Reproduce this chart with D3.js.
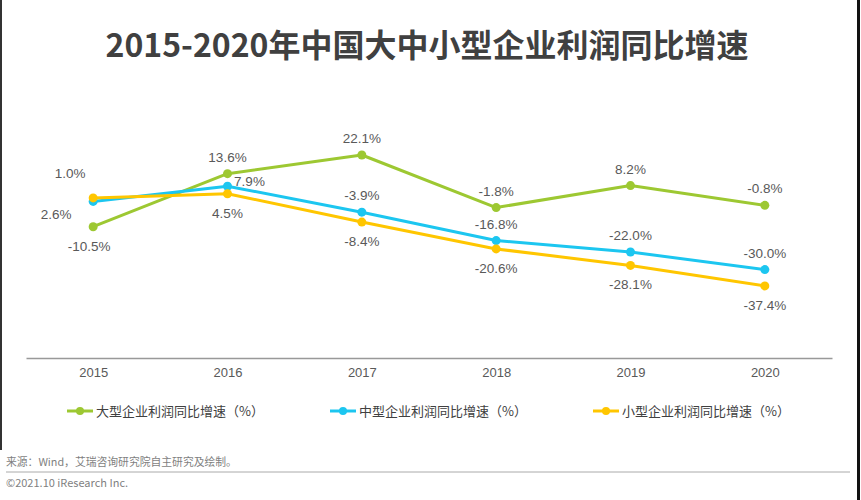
<!DOCTYPE html>
<html><head><meta charset="utf-8">
<script src="https://cdn.jsdelivr.net/npm/d3@7/dist/d3.min.js"></script>
<style>
html,body{margin:0;padding:0;background:#fff;}
svg{display:block;}
text{font-family:"Liberation Sans","Noto Sans CJK SC",sans-serif;}
.cjk{font-family:"Noto Sans CJK SC","Liberation Sans",sans-serif;}
</style></head>
<body>
<script>
const title = "2015-2020年中国大中小型企业利润同比增速";
const years = ["2015","2016","2017","2018","2019","2020"];
const seriesNames = ["大型企业利润同比增速（%）","中型企业利润同比增速（%）","小型企业利润同比增速（%）"];
const largeVals = [-10.5, 13.6, 22.1, -1.8, 8.2, -0.8];
const mediumVals = [1.0, 7.9, -3.9, -16.8, -22.0, -30.0];
const smallVals = [2.6, 4.5, -8.4, -20.6, -28.1, -37.4];
const colors = ["#9DC832","#1CC6F0","#FFC600"];
const sourceText = "来源：Wind，艾瑞咨询研究院自主研究及绘制。";
const copyText = "©2021.10 iResearch Inc.";

const W = 861, H = 500;
const svg = d3.select("body").append("svg").attr("width", W).attr("height", H);

// borders
svg.append("line").attr("x1",1).attr("x2",1).attr("y1",0).attr("y2",450).attr("stroke","#333").attr("stroke-width",2);
svg.append("line").attr("x1",858.5).attr("x2",858.5).attr("y1",0).attr("y2",H).attr("stroke","#111").attr("stroke-width",3);

svg.append("text").attr("class","cjk").attr("x",427).attr("y",57).attr("text-anchor","middle")
  .attr("font-size",32).attr("font-weight","bold").attr("fill","#404040").text(title);

const x = d3.scalePoint().domain(years).range([26, 832]).padding(0.5);
const y = d3.scaleLinear().domain([-70, 50]).range([357.6, 93.6]);

// x axis
const xAxis = d3.axisBottom(x).tickSize(0).tickPadding(10);
const gx = svg.append("g").attr("transform","translate(0,358)").call(xAxis);
gx.select(".domain").attr("stroke","#999").attr("stroke-width",1.3);
gx.selectAll("text").attr("font-size",13).attr("fill","#595959").attr("font-family","Liberation Sans, sans-serif");

const series = [largeVals, mediumVals, smallVals];
// label offsets [dx, dy] per series & index
const above = [0,-12], below = [0,24];
const offsets = [
  [[-4,24], above, above, above, above, above],
  [[-23,-23], [22,0], above, above, above, above],
  [[-37,21], below, below, below, below, below]
];

const line = d3.line().x((d,i)=>x(years[i])).y(d=>y(d));
series.forEach((vals, s) => {
  svg.append("path").datum(vals).attr("d", line).attr("fill","none")
    .attr("stroke", colors[s]).attr("stroke-width", 3).attr("stroke-linejoin","round");
});
series.forEach((vals, s) => {
  svg.append("g").selectAll("circle").data(vals).join("circle")
    .attr("cx",(d,i)=>x(years[i])).attr("cy",d=>y(d)).attr("r",4.5).attr("fill",colors[s]);
  svg.append("g").selectAll("text").data(vals).join("text")
    .attr("x",(d,i)=>x(years[i]) + offsets[s][i][0])
    .attr("y",(d,i)=>y(d) + offsets[s][i][1])
    .attr("text-anchor","middle").attr("font-size",13.5).attr("fill","#595959")
    .text(d=>d.toFixed(1)+"%");
});

// legend
const legX = [67, 330, 593];
seriesNames.forEach((n, s) => {
  const g = svg.append("g").attr("transform",`translate(${legX[s]},411)`);
  g.append("line").attr("x1",0).attr("x2",26).attr("y1",0).attr("y2",0).attr("stroke",colors[s]).attr("stroke-width",3);
  g.append("circle").attr("cx",13).attr("cy",0).attr("r",4).attr("fill",colors[s]);
  g.append("text").attr("class","cjk").attr("x",29).attr("y",5).attr("font-size",13).attr("fill","#404040").text(n);
});

// footer
svg.append("text").attr("class","cjk").attr("x",6).attr("y",466).attr("font-size",10.8).attr("fill","#7f7f7f").text(sourceText);
svg.append("line").attr("x1",6).attr("x2",850).attr("y1",472).attr("y2",472).attr("stroke","#aaa").attr("stroke-width",1);
svg.append("text").attr("class","cjk").attr("x",6).attr("y",487).attr("font-size",11).attr("fill","#7f7f7f").text(copyText);
</script>
</body></html>
